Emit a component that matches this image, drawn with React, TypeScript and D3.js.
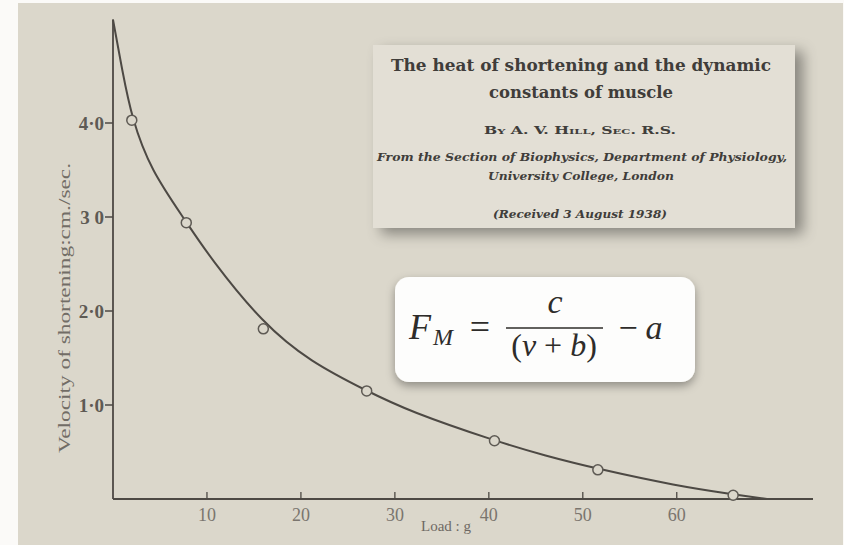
import * as d3 from 'd3';

// Hill (1938) load / velocity points
const loads = [2.0, 7.8, 16.0, 27.0, 40.6, 51.6, 66.0];
const velocities = [4.03, 2.94, 1.81, 1.15, 0.62, 0.31, 0.04];

// samples along the drawn hyperbola
const curveLoads = [0, 1.0, 2.0, 4.0, 7.8, 10.3, 16.0, 21.0, 27.0, 31.6, 40.6, 46.0, 51.6, 60.0, 66.0, 69.6];
const curveVelocities = [5.1, 4.55, 4.05, 3.5, 2.95, 2.57, 1.86, 1.46, 1.15, 0.93, 0.62, 0.46, 0.32, 0.14, 0.05, 0.0];

const xTicks = [10, 20, 30, 40, 50, 60];
const xTickLabels = ['10', '20', '30', '40', '50', '60'];
const yTicks = [1, 2, 3, 4];
const yTickLabels = ['1·0', '2·0', '3 0', '4·0'];

const titleLines = [
  'The heat of shortening and the dynamic',
  'constants of muscle',
];

const W = 844;
const H = 545;
const paper = '#dbd7cb';
const ink = '#4d4944';

export default function App() {
  const x = d3.scaleLinear().domain([0, 74.5]).range([113, 813]);
  const y = d3.scaleLinear().domain([0, 5.1]).range([499, 19.6]);

  const curve = d3.line<number>()
    .x((d, i) => x(curveLoads[i]))
    .y(d => y(d))
    .curve(d3.curveBasis);

  return (
    <svg width={W} height={H} style={{ position: 'absolute', left: 0, top: 0 }}>
      <defs>
        <filter id="boxShadow" x="-10%" y="-10%" width="125%" height="135%">
          <feDropShadow dx="8" dy="6" stdDeviation="7" floodColor="#000" floodOpacity="0.38" />
        </filter>
        <filter id="eqShadow" x="-10%" y="-10%" width="120%" height="140%">
          <feDropShadow dx="0" dy="4" stdDeviation="5" floodColor="#000" floodOpacity="0.35" />
        </filter>
      </defs>

      <rect width={W} height={H} fill="#fbfaf8" />
      <rect x={18} y={3} width={W - 19} height={H - 3} fill={paper} />

      {/* axes */}
      <line x1={x(0)} x2={x(0)} y1={y(0)} y2={y(5.1)} stroke={ink} strokeWidth={1.8} />
      <line x1={x(0)} x2={x(74.5)} y1={y(0)} y2={y(0)} stroke={ink} strokeWidth={1.8} />

      {yTicks.map((t, i) => (
        <g key={'y' + t}>
          <line x1={x(0) - 8} x2={x(0)} y1={y(t)} y2={y(t)} stroke={ink} strokeWidth={1.5} />
          <text x={x(0) - 9} y={y(t) + 7} textAnchor="end" fontFamily="'Liberation Serif', serif"
            fontWeight="bold" fontSize={19} fill="#5e5a54">{yTickLabels[i]}</text>
        </g>
      ))}

      {xTicks.map((t, i) => (
        <g key={'x' + t}>
          <line x1={x(t)} x2={x(t)} y1={y(0)} y2={y(0) - 7} stroke={ink} strokeWidth={1.3} />
          <text x={x(t)} y={y(0) + 22} textAnchor="middle" fontFamily="'Liberation Serif', serif"
            fontSize={18} fill="#7a756e">{xTickLabels[i]}</text>
        </g>
      ))}

      <text x={446} y={531} textAnchor="middle" fontFamily="'Liberation Serif', serif"
        fontSize={15} fill="#6e6963">Load : g</text>

      <text transform="translate(70,308) rotate(-90)" textAnchor="middle"
        fontFamily="'Liberation Serif', serif" fontSize={17} fill="#726d66"
        textLength={290} lengthAdjust="spacingAndGlyphs">Velocity of shortening:cm./sec.</text>

      {/* fitted curve and points */}
      <path d={curve(curveVelocities) ?? ''} fill="none" stroke={ink} strokeWidth={2} />
      {loads.map((l, i) => (
        <circle key={'p' + i} cx={x(l)} cy={y(velocities[i])} r={5} fill={paper}
          stroke="#5e5a54" strokeWidth={1.5} />
      ))}

      {/* paper title card */}
      <rect x={373} y={45} width={422} height={183} fill="#e3dfd5" filter="url(#boxShadow)" />
      <g fontFamily="'DejaVu Serif', serif" fill="#403d3a" textAnchor="middle">
        <text x={581} y={71} fontSize={16} fontWeight="bold" textLength={380}
          lengthAdjust="spacingAndGlyphs">{titleLines[0]}</text>
        <text x={581} y={98} fontSize={16} fontWeight="bold" textLength={184}
          lengthAdjust="spacingAndGlyphs">{titleLines[1]}</text>
        <text x={580} y={134} fontSize={11} fontWeight="bold" fontVariant="small-caps"
          textLength={192} lengthAdjust="spacingAndGlyphs">By A. V. Hill, Sec. R.S.</text>
        <text x={582} y={161} fontSize={11} fontWeight="bold" fontStyle="italic" textLength={410}
          lengthAdjust="spacingAndGlyphs">From the Section of Biophysics, Department of Physiology,</text>
        <text x={581} y={180} fontSize={11} fontWeight="bold" fontStyle="italic" textLength={186}
          lengthAdjust="spacingAndGlyphs">University College, London</text>
        <text x={580} y={218} fontSize={11} fontWeight="bold" fontStyle="italic" textLength={174}
          lengthAdjust="spacingAndGlyphs">(Received 3 August 1938)</text>
      </g>

      {/* Hill's equation card */}
      <rect x={395} y={277} width={300} height={105} rx={14} fill="#fdfdfc" filter="url(#eqShadow)" />
      <g fontFamily="'Liberation Serif', serif" fill="#2e2c2a">
        <text x={409} y={339} fontSize={36} fontStyle="italic">F</text>
        <text x={433} y={345} fontSize={24} fontStyle="italic">M</text>
        <text x={480} y={339} fontSize={36} textAnchor="middle">=</text>
        <text x={555} y={313} fontSize={34} fontStyle="italic" textAnchor="middle">c</text>
        <line x1={506} x2={603} y1={328} y2={328} stroke="#2e2c2a" strokeWidth={1.6} />
        <text x={554} y={356} fontSize={32} textAnchor="middle">
          (<tspan fontStyle="italic">v</tspan> + <tspan fontStyle="italic">b</tspan>)
        </text>
        <text x={628} y={339} fontSize={34} textAnchor="middle">−</text>
        <text x={654} y={339} fontSize={34} fontStyle="italic" textAnchor="middle">a</text>
      </g>
    </svg>
  );
}
